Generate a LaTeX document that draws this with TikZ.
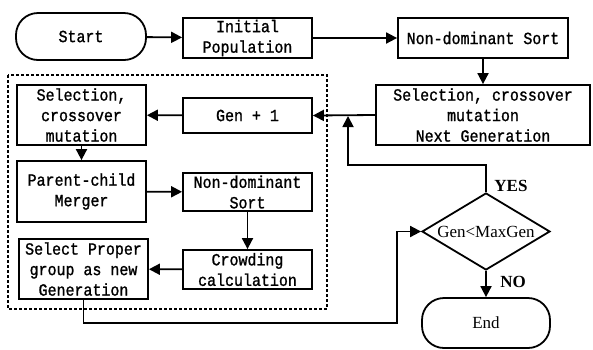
\documentclass[tikz,border=0pt]{standalone}
\usepackage{fontspec}
\setmainfont{Liberation Serif}
\newfontfamily\flowmono[FakeStretch=0.88, FakeBold=1.2]{Liberation Mono}
\usepackage{tikz}
\usetikzlibrary{arrows.meta, shapes.geometric}

\tikzset{
  flowbox/.style={draw, line width=1.8pt, inner sep=0pt, align=center,
    font=\flowmono\fontsize{17}{20.5}\selectfont},
  termbox/.style={flowbox, rounded corners=22pt},
  flowarr/.style={line width=1.8pt, -{Triangle[length=11pt,width=11pt]}},
  tag/.style={font=\bfseries\fontsize{17}{18}\selectfont}
}

\begin{document}
\begin{tikzpicture}[x=1pt,y=-1pt]
  \useasboundingbox (0,0) rectangle (593,349);
  \draw[line width=1.4pt, dash pattern=on 3pt off 2pt] (8,75) rectangle (327,309);

  \node[termbox, minimum width=130pt, minimum height=47pt] (start) at (81,36.5) {Start};
  \node[flowbox, minimum width=129pt, minimum height=40pt] (init) at (247.5,38) {Initial\\Population};
  \node[flowbox, minimum width=170pt, minimum height=40pt] (sort) at (483,38) {Non-dominant Sort};
  \node[flowbox, minimum width=214pt, minimum height=60pt] (nextgen) at (483,115) {Selection, crossover\\mutation\\Next Generation};
  \node[flowbox, minimum width=129pt, minimum height=35pt] (gen) at (247.5,115.5) {Gen + 1};
  \node[flowbox, minimum width=129pt, minimum height=60pt] (select) at (81.5,115) {Selection,\\crossover\\mutation};
  \node[flowbox, minimum width=129pt, minimum height=61pt] (merge) at (81.5,191.5) {Parent-child\\Merger};
  \node[flowbox, minimum width=129pt, minimum height=38pt] (sortin) at (247.5,192) {Non-dominant\\Sort};
  \node[flowbox, minimum width=129pt, minimum height=39pt] (crowd) at (247.5,269.5) {Crowding\\calculation};
  \node[flowbox, minimum width=129pt, minimum height=60pt] (proper) at (83.5,269) {Select Proper\\group as new\\Generation};
  \node[diamond, draw, line width=1.8pt, inner sep=0pt, aspect=1.66,
        minimum width=128pt, minimum height=77pt,
        font=\fontsize{17}{18}\selectfont] (cond) at (486,231.5) {Gen<MaxGen};
  \node[termbox, minimum width=128pt, minimum height=50pt,
        font=\fontsize{17}{18}\selectfont] (stop) at (486,323) {End};

  \node[tag] (yes) at (511,186) {YES};
  \node[tag] (no) at (513,282) {NO};

  \coordinate (low) at (397,323);
  \coordinate (back) at (348,165);
  \coordinate (join) at (348,116);

  \draw[flowarr] (start) -- (init);
  \draw[flowarr] (init) -- (sort);
  \draw[flowarr] (sort) -- (nextgen);
  \draw[flowarr] (nextgen.west) -- (gen.east);
  \draw[flowarr] (gen) -- (select);
  \draw[flowarr] (select.south -| merge.north) -- (merge.north);
  \draw[flowarr] (merge) -- (sortin);
  \draw[flowarr] (sortin) -- (crowd);
  \draw[flowarr] (crowd) -- (proper);
  \draw[flowarr] (proper.south) |- (low) |- (cond.west);
  \draw[flowarr] (cond.north) |- (back) -- (join);
  \draw[flowarr] (cond) -- (stop);
\end{tikzpicture}
\end{document}
